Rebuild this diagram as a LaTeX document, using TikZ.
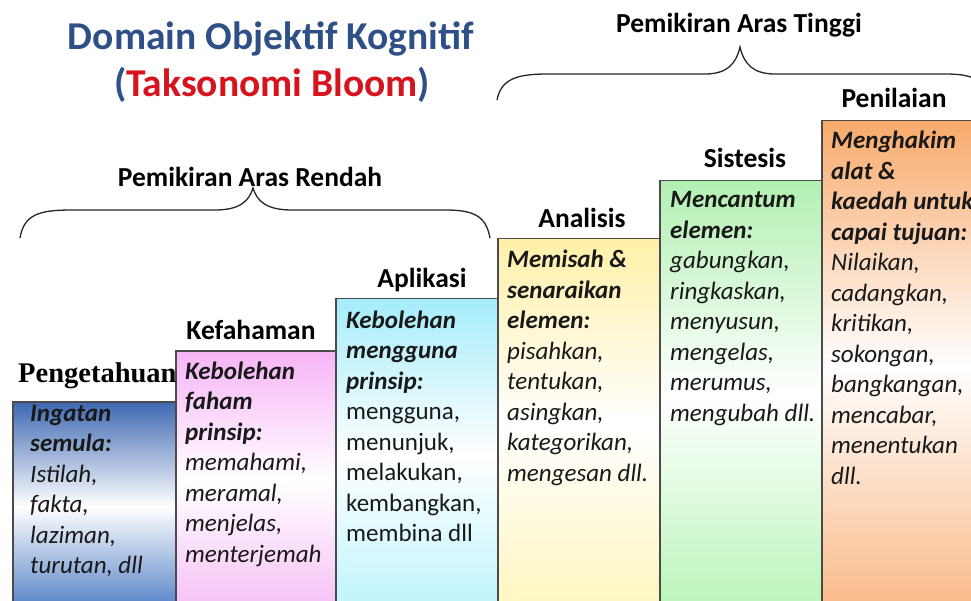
\documentclass[tikz,border=0pt]{standalone}
\usepackage{fontspec}
\setmainfont{Carlito}
\newfontfamily\timesf{Liberation Serif}
\definecolor{titleblue}{RGB}{47,80,135}
\definecolor{titlered}{RGB}{214,20,30}
\definecolor{edge}{RGB}{75,75,75}
\definecolor{cblue}{RGB}{62,104,178}
\definecolor{cblueb}{RGB}{80,126,198}
\definecolor{cpink}{RGB}{246,180,246}
\definecolor{cpinkb}{RGB}{245,192,245}
\definecolor{ccyan}{RGB}{165,236,250}
\definecolor{ccyanb}{RGB}{190,244,252}
\definecolor{cyellow}{RGB}{255,240,168}
\definecolor{cyellowb}{RGB}{255,246,190}
\definecolor{cgreen}{RGB}{178,240,178}
\definecolor{cgreenb}{RGB}{185,245,185}
\definecolor{corange}{RGB}{248,170,108}
\definecolor{corangeb}{RGB}{249,185,135}
\newcommand{\bhead}[1]{\textbf{\textit{#1}}}
\tikzset{
  levelbox/.style={draw=edge, line width=1.5pt, anchor=north west, inner sep=0pt,
    minimum width=#1, minimum height=230pt},
  boxtext/.style={anchor=base west, inner sep=0pt, text=black!90,
    font=\fontsize{25}{30.5}\selectfont},
  levelname/.style={anchor=base, inner sep=0pt, font=\fontsize{27.5}{33}\selectfont\bfseries},
  bracestyle/.style={line width=1.3pt, black!85},
}
\begin{document}
\begin{tikzpicture}[x=1pt,y=-1pt]
\useasboundingbox (0,0) rectangle (971,601);
\clip (0,0) rectangle (971,601);

% title
\node[anchor=base, inner sep=0pt, font=\fontsize{39.5}{45}\selectfont\bfseries, text=titleblue] (t1) at (271,50) {Domain Objektif Kognitif};
\node[anchor=base, inner sep=0pt, font=\fontsize{39.5}{45}\selectfont\bfseries, text=titleblue] (t2) at (272,97) {(\textcolor{titlered}{Taksonomi Bloom})};

% braces
\node[levelname] (low) at (250,187) {Pemikiran Aras Rendah};
\node[levelname] (high) at (739,33) {Pemikiran Aras Tinggi};
\coordinate (lowtip) at (253,188);
\coordinate (hightip) at (740,47);
\draw[bracestyle] (20,238) .. controls (24,214) and (40,210) .. (72,210) -- (215,210)
  .. controls (240,210) and (249,201) .. (lowtip)
  .. controls (257,201) and (266,210) .. (292,210) -- (445,210)
  .. controls (474,210) and (486,216) .. (490,238);
\draw[bracestyle] (497,100) .. controls (501,80) and (515,74) .. (547,74) -- (705,74)
  .. controls (727,74) and (736,64) .. (hightip)
  .. controls (744,64) and (753,74) .. (775,74) -- (945,74)
  .. controls (975,74) and (983,80) .. (987,100);

% boxes
\node[levelbox=163pt, minimum height=210pt, top color=cblue, bottom color=cblueb, middle color=white] (b1) at (12,401) {};
\node[levelbox=160pt, minimum height=260pt, top color=cpink, bottom color=cpinkb, middle color=white] (b2) at (175,350) {};
\node[levelbox=162pt, minimum height=312pt, top color=ccyan, bottom color=ccyanb, middle color=white] (b3) at (335,298) {};
\node[levelbox=162pt, minimum height=372pt, top color=cyellow, bottom color=cyellowb, middle color=white] (b4) at (497,238) {};
\node[levelbox=162pt, minimum height=430pt, top color=cgreen, bottom color=cgreenb, middle color=white] (b5) at (659,180) {};
\node[levelbox=170pt, minimum height=490pt, top color=corange, bottom color=corangeb, middle color=white] (b6) at (821,120) {};

% level names
\node[anchor=base west, inner sep=0pt, font=\fontsize{28.5}{33}\selectfont\timesf\bfseries] (n1) at (18,382) {Pengetahuan};
\node[levelname] (n2) at (251,339) {Kefahaman};
\node[levelname] (n3) at (422,288) {Aplikasi};
\node[levelname] (n4) at (582,228) {Analisis};
\node[levelname] (n5) at (745,168) {Sistesis};
\node[levelname] (n6) at (894,108) {Penilaian};

% box texts
\node[boxtext] (x1) at (30,421) {\parbox[t]{200pt}{\raggedright\bhead{Ingatan}\\\bhead{semula:}\\\textit{Istilah,}\\\textit{fakta,}\\\textit{laziman,}\\\textit{turutan, dll}}};
\node[boxtext] (x2) at (185,379) {\parbox[t]{200pt}{\raggedright\bhead{Kebolehan}\\\bhead{faham}\\\bhead{prinsip:}\\\textit{memahami,}\\\textit{meramal,}\\\textit{menjelas,}\\\textit{menterjemah}}};
\node[boxtext] (x3) at (346,328) {\parbox[t]{200pt}{\raggedright\bhead{Kebolehan}\\\bhead{mengguna}\\\bhead{prinsip:}\\mengguna,\\menunjuk,\\melakukan,\\kembangkan,\\membina dll}};
\node[boxtext] (x4) at (507,268) {\parbox[t]{200pt}{\raggedright\bhead{Memisah \&}\\\bhead{senaraikan}\\\bhead{elemen:}\\\textit{pisahkan,}\\\textit{tentukan,}\\\textit{asingkan,}\\\textit{kategorikan,}\\\textit{mengesan dll.}}};
\node[boxtext] (x5) at (670,208) {\parbox[t]{200pt}{\raggedright\bhead{Mencantum}\\\bhead{elemen:}\\\textit{gabungkan,}\\\textit{ringkaskan,}\\\textit{menyusun,}\\\textit{mengelas,}\\\textit{merumus,}\\\textit{mengubah dll.}}};
\node[boxtext] (x6) at (831,149) {\parbox[t]{200pt}{\raggedright\bhead{Menghakim}\\\bhead{alat \&}\\\bhead{kaedah untuk}\\\bhead{capai tujuan:}\\\textit{Nilaikan,}\\\textit{cadangkan,}\\\textit{kritikan,}\\\textit{sokongan,}\\\textit{bangkangan,}\\\textit{mencabar,}\\\textit{menentukan}\\\textit{dll.}}};
\end{tikzpicture}
\end{document}
